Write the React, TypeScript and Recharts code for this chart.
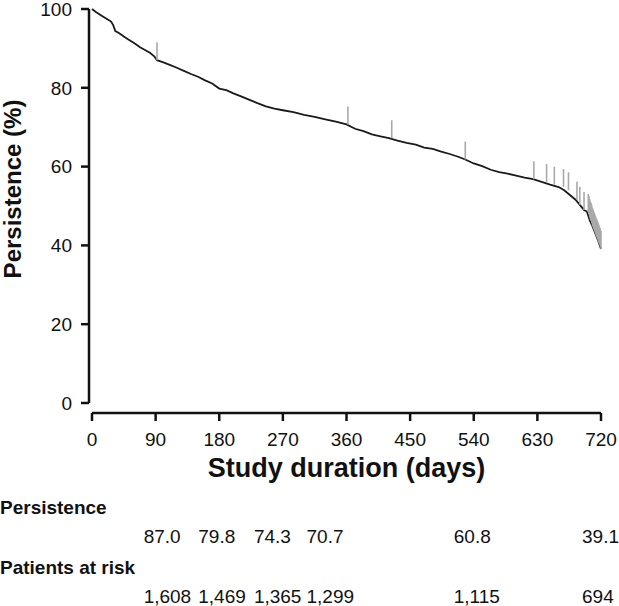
import React from 'react';
import { ComposedChart, Line, Scatter, XAxis, YAxis } from 'recharts';

// ── Data ──────────────────────────────────────────────────────────────────────

// Kaplan-Meier persistence curve
const CURVE_DAYS = [
  0, 5, 12, 20, 27, 30, 33, 38, 45, 52, 60, 68, 75, 82, 88, 92, 100, 110, 120, 130,
  140, 150, 160, 170, 180, 190, 200, 210, 222, 234, 246, 258, 270, 285, 300, 315, 330, 345, 360, 372,
  384, 396, 408, 420, 432, 445, 458, 470, 482, 494, 506, 518, 528, 540, 552, 564, 576, 588, 600, 612,
  624, 636, 648, 660, 668, 676, 684, 690, 696, 700, 704, 708, 712, 716, 720,
];
const CURVE_PCT = [
  100, 99.3, 98.5, 97.6, 96.8, 95.9, 94.4, 93.9, 93.0, 92.2, 91.3, 90.3, 89.6, 88.9, 88.0, 87.0, 86.5, 85.8, 85.1, 84.3,
  83.5, 82.8, 81.9, 81.1, 79.8, 79.4, 78.6, 77.9, 77.0, 76.1, 75.3, 74.7, 74.3, 73.8, 73.1, 72.6, 72.0, 71.4, 70.7, 69.6,
  69.0, 68.2, 67.7, 67.2, 66.6, 66.0, 65.6, 64.8, 64.5, 63.8, 63.2, 62.5, 61.8, 60.8, 60.1, 59.2, 58.6, 58.2, 57.7, 57.2,
  56.8, 56.1, 55.4, 54.8, 54.0, 52.8, 51.6, 50.3, 49.0, 48.6, 46.4, 44.8, 43.0, 41.2, 39.1,
];

// Censored patients (tick marks)
const CENSOR_DAYS = [
  92, 362, 424, 528, 625, 643, 654, 667, 674, 686, 690, 696, 702,
  703, 704, 705, 706, 707, 708, 709, 710, 711, 712, 713, 714, 715, 716, 717, 718, 719, 720,
];
const CENSOR_PCT = [
  87.0, 70.7, 67.2, 61.8, 56.8, 56.1, 55.4, 54.8, 54.0, 51.6, 50.3, 49.0, 48.5,
  48.0, 47.2, 46.6, 46.2, 45.6, 44.9, 44.5, 44.0, 43.5, 43.0, 42.5, 42.1, 41.6, 41.2, 40.7, 40.2, 39.7, 39.1,
];

const X_TICKS = [0, 90, 180, 270, 360, 450, 540, 630, 720];
const Y_TICKS = [0, 20, 40, 60, 80, 100];

// Table under the axis
const TABLE_DAYS = [90, 180, 270, 360, 540, 720];
const TABLE_PERSISTENCE = ['87.0', '79.8', '74.3', '70.7', '60.8', '39.1'];
const TABLE_AT_RISK = ['1,608', '1,469', '1,365', '1,299', '1,115', '694'];

// ── Styles / layout ───────────────────────────────────────────────────────────

const FONT = "'Liberation Sans', Arial, Helvetica, sans-serif";
const INK = '#111';
const tickStyle = { fontFamily: FONT, fontSize: 19, fill: INK };
// the table columns are left-aligned and sit a bit left of their day ticks
const TABLE_COL_SHIFT = [-12, -21, -29, -40, -20, -19];

const curveData = CURVE_DAYS.map((day, i) => ({ day, pct: CURVE_PCT[i] }));
const censorData = CENSOR_DAYS.map((day, i) => ({ day, pct: CENSOR_PCT[i] }));

function CensorMark(props: any) {
  const { cx, cy } = props;
  if (cx == null || cy == null) return null;
  return <line x1={cx} y1={cy} x2={cx} y2={cy - 18} stroke="#a9a9a9" strokeWidth={1.6} />;
}

function rowLabel(text: string) {
  return (p: any) => {
    const vb = p.viewBox || { y: 0 };
    return (
      <text x={0} y={vb.y + 24} fontFamily={FONT} fontSize={19} fontWeight={700}
        fill={INK} dominantBaseline="central">
        {text}
      </text>
    );
  };
}

function tableTick(values: string[]) {
  return (p: any) => {
    const i = TABLE_DAYS.indexOf(p.payload?.value);
    if (i < 0) return <g />;
    return (
      <text x={p.x + TABLE_COL_SHIFT[i]} y={p.y} dy="0.71em" textAnchor="start"
        fontFamily={FONT} fontSize={19} fill={INK}>
        {values[i]}
      </text>
    );
  };
}

export default function App() {
  return (
    <div style={{ position: 'absolute', left: 0, top: 0, background: '#fff' }}>
      <ComposedChart width={619} height={606} data={curveData}
        margin={{ top: 9, right: 18, bottom: 0, left: 0 }}>
        <XAxis
          xAxisId="main" dataKey="day" type="number" domain={[0, 720]} ticks={X_TICKS}
          interval={0} padding={{ left: 3, right: 0 }} height={70}
          axisLine={{ stroke: INK, strokeWidth: 2.5, strokeDasharray: '0 3 1000' }}
          tickLine={{ stroke: INK, strokeWidth: 2.5 }} tickSize={8} tickMargin={12}
          tick={tickStyle}
          label={(p: any) => {
            const vb = p.viewBox || { x: 89, y: 413, width: 512 };
            return (
              <text x={vb.x + 3 + (vb.width - 3) / 2} y={vb.y + 55} textAnchor="middle"
                dominantBaseline="central" fontFamily={FONT} fontSize={27} fontWeight={700} fill={INK}>
                Study duration (days)
              </text>
            );
          }}
        />
        <XAxis
          xAxisId="pers" dataKey="day" type="number" domain={[0, 720]} allowDataOverflow
          ticks={TABLE_DAYS} interval={0}
          padding={{ left: 3, right: 0 }} height={60} axisLine={false} tickLine={false}
          tickSize={0} tickMargin={47} tick={tableTick(TABLE_PERSISTENCE)}
          label={rowLabel('Persistence')}
        />
        <XAxis
          xAxisId="risk" dataKey="day" type="number" domain={[0, 720]} allowDataOverflow
          ticks={TABLE_DAYS} interval={0}
          padding={{ left: 3, right: 0 }} height={63} axisLine={false} tickLine={false}
          tickSize={0} tickMargin={47} tick={tableTick(TABLE_AT_RISK)}
          label={rowLabel('Patients at risk')}
        />
        <YAxis
          type="number" domain={[0, 100]} ticks={Y_TICKS} interval={0} width={89}
          padding={{ top: 0, bottom: 10 }}
          axisLine={{ stroke: INK, strokeWidth: 2.5, strokeDasharray: '394 1000' }}
          tickLine={{ stroke: INK, strokeWidth: 2.5 }} tickSize={8} tickMargin={9}
          tick={tickStyle}
          label={(p: any) => {
            const vb = p.viewBox || { y: 9 };
            const cy = vb.y + 180;
            return (
              <text transform={`translate(12,${cy}) rotate(-90)`} textAnchor="middle"
                dominantBaseline="central" fontFamily={FONT} fontSize={24} fontWeight={700} fill={INK}>
                Persistence (%)
              </text>
            );
          }}
        />
        {/* invisible series so the table axes get the same day domain */}
        <Line xAxisId="pers" data={curveData} dataKey="pct" stroke="none" dot={false}
          activeDot={false} isAnimationActive={false} />
        <Line xAxisId="risk" data={curveData} dataKey="pct" stroke="none" dot={false}
          activeDot={false} isAnimationActive={false} />
        <Scatter xAxisId="main" data={censorData} dataKey="pct" shape={CensorMark}
          isAnimationActive={false} />
        <Line xAxisId="main" data={curveData} dataKey="pct" type="linear"
          stroke="#1a1a1a" strokeWidth={1.8} dot={false} activeDot={false}
          isAnimationActive={false} />
      </ComposedChart>
    </div>
  );
}
